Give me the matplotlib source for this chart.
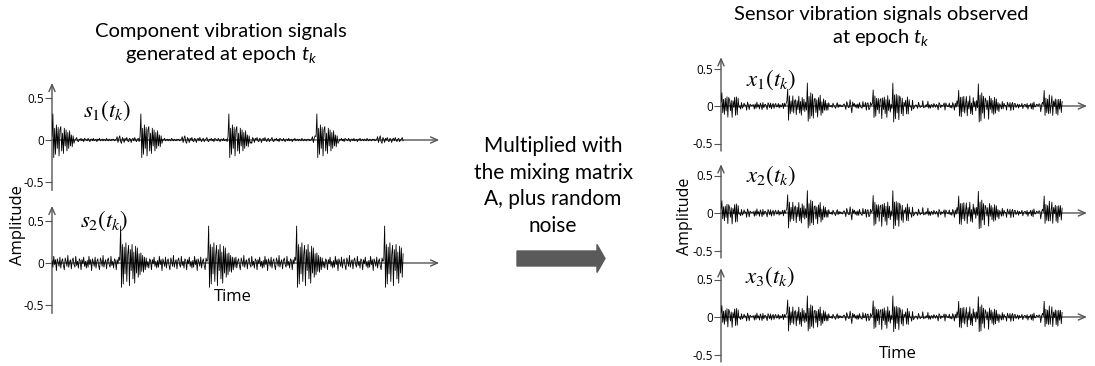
import matplotlib.pyplot as plt
import numpy as np
from matplotlib.patches import FancyArrow

plt.rcParams['font.family'] = ['Lato', 'DejaVu Sans']
plt.rcParams['mathtext.fontset'] = 'custom'
plt.rcParams['mathtext.it'] = 'Lato:italic'
plt.rcParams['mathtext.rm'] = 'Lato'

# sampling: 100 samples per second, 4 s record
fs = 100
duration = 4.0

# component 1: short impulsive bursts once per second
s1_onsets = [0.0, 1.0, 2.0, 3.0]
s1_burst = [0.04, 0.31, -0.21, 0.14, -0.17, 0.18, -0.10, 0.15, -0.19, 0.12,
            0.16, -0.13, 0.08, -0.16, 0.14, -0.07, 0.12, -0.13, 0.09, -0.10,
            0.11, -0.07, 0.06, -0.08, 0.05, -0.04]
s1_floor = [0.04, -0.03, 0.02, 0.05, -0.02, -0.04, 0.03, 0.01, -0.03, 0.02,
            0.00, 0.03, -0.01, -0.02, 0.02, 0.01, -0.03, 0.01, 0.02, -0.01,
            0.03, 0.00, -0.02, 0.01, 0.02, -0.02, 0.00, 0.01, 0.03, -0.01,
            -0.02, 0.01, 0.00, 0.02, -0.01, 0.01, -0.02, 0.02, 0.01, 0.00,
            -0.01, 0.02, 0.00, -0.02, 0.01, 0.01, -0.01, 0.02, -0.01, 0.00,
            0.01, -0.02, 0.01, 0.00, 0.02, -0.01, 0.00, 0.01, -0.01, 0.01,
            0.00, -0.01, 0.02, 0.00, -0.01, 0.01, 0.00, -0.01, 0.01, 0.00,
            0.01, -0.01, 0.00, 0.01]

# component 2: longer, stronger bursts on a noisier floor
s2_onsets = [0.77, 1.77, 2.77, 3.77]
s2_burst = [0.03, 0.44, -0.29, 0.22, -0.25, 0.19, -0.13, 0.24, -0.22, 0.10,
            0.21, -0.27, 0.16, -0.09, 0.22, -0.19, 0.13, -0.24, 0.20, -0.12,
            0.18, -0.17, 0.11, -0.14, 0.12, -0.10, 0.09, -0.11, 0.07, -0.08,
            0.06, -0.05]
s2_floor = [0.03, -0.05, 0.08, -0.02, 0.04, -0.09, 0.05, 0.01, -0.04, 0.07,
            -0.06, 0.02, 0.05, -0.03, -0.08, 0.06, 0.02, -0.04, 0.09, -0.05,
            0.01, 0.04, -0.07, 0.03, 0.06, -0.02, -0.05, 0.08, -0.03, 0.02,
            -0.06, 0.05, 0.03, -0.08, 0.04, -0.01, 0.07, -0.04, 0.02, -0.06]

# mixing matrix (3 sensors x 2 components) and sensor noise
mixing = [[0.72, 0.52],
          [0.68, 0.56],
          [0.64, 0.52]]
sensor_noise = [0.01, -0.02, 0.02, 0.00, -0.01, 0.02, -0.02, 0.01, 0.01, -0.01,
                0.00, 0.02, -0.01, -0.02, 0.01, 0.00, 0.02, -0.01, 0.01, -0.02,
                0.02, 0.01, -0.01, 0.00, -0.02, 0.01, 0.02, -0.01, 0.00, 0.01,
                -0.01, 0.02, 0.00, -0.02, 0.01]

s_labels = [r'$s_1(t_k)$', r'$s_2(t_k)$']
x_labels = [r'$x_1(t_k)$', r'$x_2(t_k)$', r'$x_3(t_k)$']


def build_signal(floor, burst, onsets, n):
    sig = np.resize(np.array(floor), n)
    for t0 in onsets:
        i0 = int(round(t0 * fs))
        seg = np.array(burst)[:n - i0]
        sig[i0:i0 + len(seg)] = seg
    return sig


n = int(duration * fs)
t = np.arange(n) / fs
s1 = build_signal(s1_floor, s1_burst, s1_onsets, n)
s2 = build_signal(s2_floor, s2_burst, s2_onsets, n)
sources = np.vstack([s1, s2])
observed = np.array(mixing) @ sources + np.resize(np.array(sensor_noise), n)

W, H = 1095, 366
fig = plt.figure(figsize=(W / 100, H / 100), dpi=100)
axis_grey = '#555555'


def signal_axes(x0, px_per_s, xmax, zero_y, px_per_unit, ylim):
    bottom = zero_y - ylim[0] * px_per_unit
    top = zero_y - ylim[1] * px_per_unit
    ax = fig.add_axes([x0 / W, (H - bottom) / H, xmax * px_per_s / W,
                       (bottom - top) / H])
    ax.set_xlim(0, xmax)
    ax.set_ylim(*ylim)
    for sp in ax.spines.values():
        sp.set_visible(False)
    ax.set_xticks([])
    ax.set_yticks([-0.5, 0, 0.5])
    ax.set_yticklabels(['-0.5', '0', '0.5'], family='Open Sans')
    ax.tick_params(axis='y', direction='out', length=5, color=axis_grey,
                   labelsize=8.5, pad=1)
    arrow = dict(arrowstyle='->,head_length=0.5,head_width=0.22',
                 color=axis_grey, lw=1, shrinkA=0, shrinkB=0)
    ax.annotate('', xy=(xmax, 0), xytext=(0, 0), arrowprops=arrow,
                annotation_clip=False, zorder=1)
    ax.annotate('', xy=(0, ylim[1]), xytext=(0, ylim[0]), arrowprops=arrow,
                annotation_clip=False, zorder=1)
    return ax


def ftext(x, y, s, **kw):
    return fig.text(x / W, 1 - y / H, s, ha='center', va='center', **kw)


# left: component signals
left_zero = [140, 263]
left_lab = [(107, 111), (104, 221)]
for k, sig in enumerate(sources):
    ax = signal_axes(52, 88, 4.4, left_zero[k], 84, (-0.6, 0.68))
    ax.plot(t, sig, color='black', lw=0.6, zorder=3)
    ftext(*left_lab[k], s_labels[k], fontsize=16.5, math_fontfamily='stix')

# right: sensor observations
right_zero = [106, 213, 317]
right_lab = [(771, 80), (771, 176), (770, 277)]
for k, sig in enumerate(observed):
    ax = signal_axes(721, 85.5, 4.28, right_zero[k], 75, (-0.6, 0.65))
    ax.plot(t, sig, color='black', lw=0.6, zorder=3)
    ftext(*right_lab[k], x_labels[k], fontsize=16.5, math_fontfamily='stix')

ftext(221, 44, 'Component vibration signals\ngenerated at epoch $t_k$',
      fontsize=14.5, linespacing=1.3)
ftext(881, 27, 'Sensor vibration signals observed\nat epoch $t_k$',
      fontsize=14.5, linespacing=1.3)
ftext(553, 186, 'Multiplied with\nthe mixing matrix\nA, plus random\nnoise',
      fontsize=15, linespacing=1.4)

ftext(18, 225, 'Amplitude', fontsize=12, rotation=90, family='Open Sans')
ftext(685, 216, 'Amplitude', fontsize=11.5, rotation=90, family='Open Sans')
ftext(233, 297, 'Time', fontsize=12, family='Open Sans')
ftext(898, 354, 'Time', fontsize=12, family='Open Sans')

# block arrow between the panels
fig.add_artist(FancyArrow(5.17, (H - 258.5) / 100, 0.88, 0, width=0.15,
                          head_width=0.28, head_length=0.08,
                          length_includes_head=True, color='#5a5a5a',
                          transform=fig.dpi_scale_trans))

fig.savefig('out.png', dpi=100)
